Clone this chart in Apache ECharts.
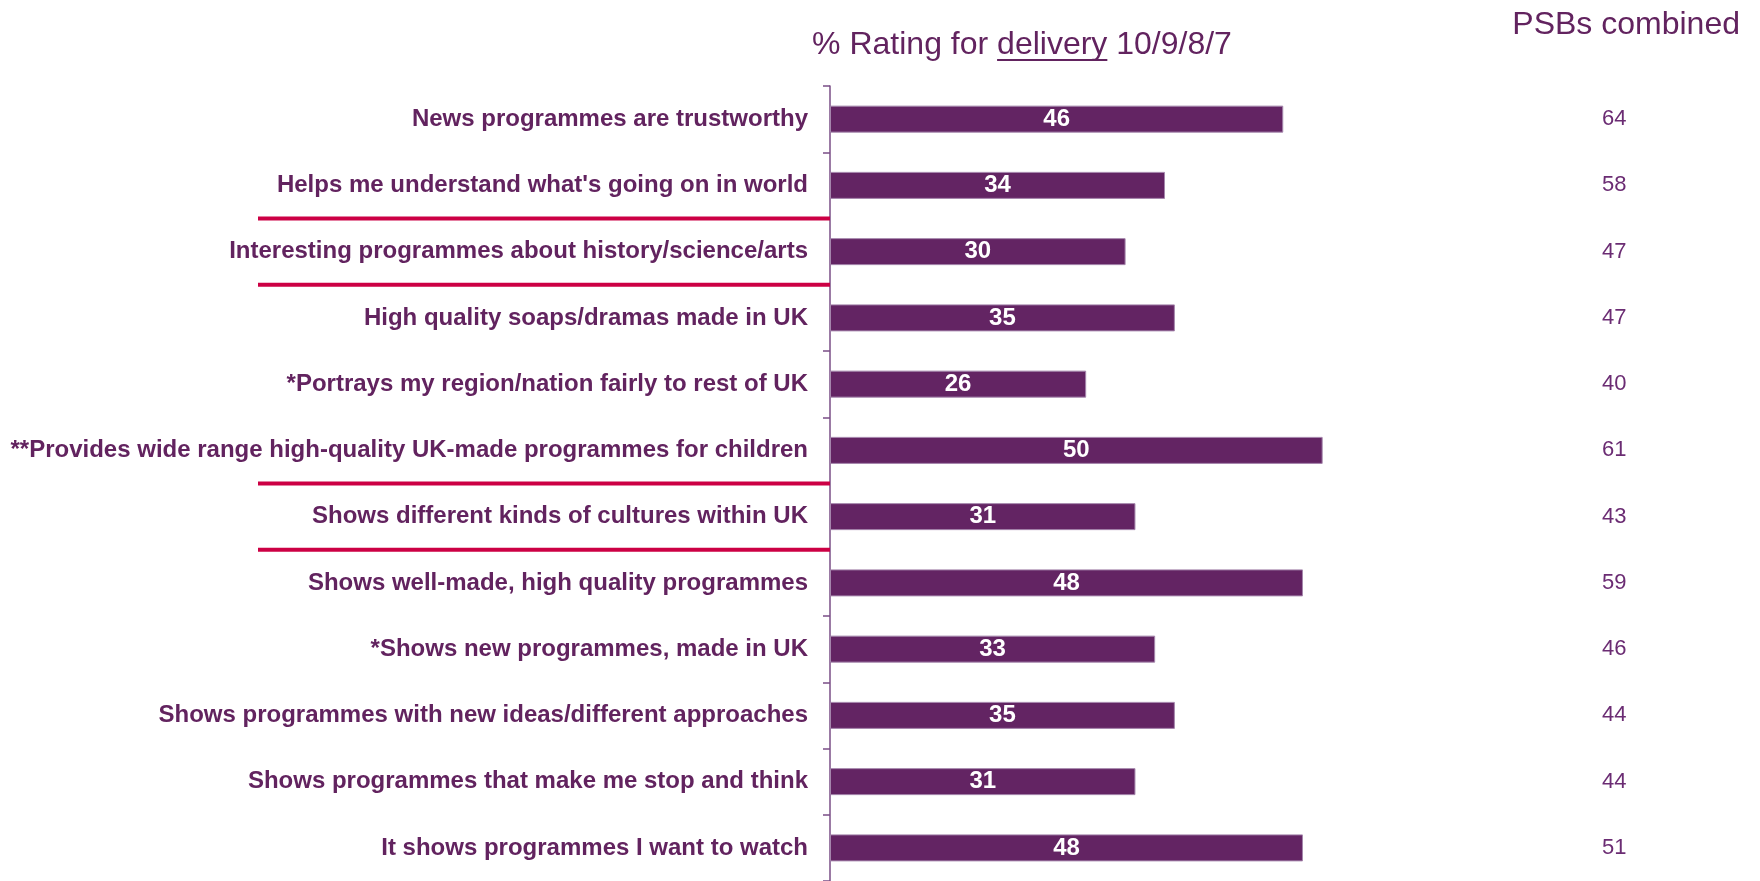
<!DOCTYPE html>
<html>
<head>
<meta charset="utf-8">
<script src="https://cdn.jsdelivr.net/npm/echarts@6/dist/echarts.min.js"></script>
<style>
  html, body { margin: 0; padding: 0; background: #ffffff; overflow: hidden; }
  #chart { width: 1760px; height: 881px; }
</style>
</head>
<body>
<div id="chart"></div>
<script>
// Statements rated, top to bottom
const categories = [
  'News programmes are trustworthy',
  "Helps me understand what's going on in world",
  'Interesting programmes about history/science/arts',
  'High quality soaps/dramas made in UK',
  '*Portrays my region/nation fairly to rest of UK',
  '**Provides wide range high-quality UK-made programmes for children',
  'Shows different kinds of cultures within UK',
  'Shows well-made, high quality programmes',
  '*Shows new programmes, made in UK',
  'Shows programmes with new ideas/different approaches',
  'Shows programmes that make me stop and think',
  'It shows programmes I want to watch'
];
// % rating for delivery 10/9/8/7
const deliveryValues = [46, 34, 30, 35, 26, 50, 31, 48, 33, 35, 31, 48];
// PSBs combined column
const psbCombined = [64, 58, 47, 47, 40, 61, 43, 59, 46, 44, 44, 51];
// Group dividers sit on the boundary above these category indices
const dividerBefore = [2, 3, 6, 7];

const titleText = ['% Rating for ', 'delivery', ' 10/9/8/7'];
const sideTitle = 'PSBs combined';

const PURPLE = '#62235F';
const FONT = '"Liberation Sans", Arial, sans-serif';

const chart = echarts.init(document.getElementById('chart'), null, { renderer: 'canvas' });

chart.setOption({
  backgroundColor: '#ffffff',
  animation: false,
  grid: { left: 830, right: 191, top: 86, height: 801, containLabel: false },
  xAxis: {
    type: 'value', min: 0, max: 75,
    show: false
  },
  yAxis: [
    {
      type: 'category', data: categories, inverse: true,
      axisLine: { show: true, lineStyle: { color: '#7A4E86', width: 1.5 } },
      axisTick: { show: true, length: 7, lineStyle: { color: '#7A4E86', width: 1.5 } },
      axisLabel: {
        margin: 22, color: PURPLE, fontFamily: FONT, fontWeight: 'bold', fontSize: 24
      }
    },
    {
      type: 'category', data: psbCombined, inverse: true, position: 'right',
      axisLine: { show: false }, axisTick: { show: false },
      axisLabel: { margin: 33, color: '#6B2C73', fontFamily: FONT, fontSize: 22 }
    }
  ],
  series: [{
    type: 'bar',
    yAxisIndex: 0,
    data: deliveryValues,
    barWidth: 27,
    itemStyle: { color: '#632463', borderColor: '#A586AC', borderWidth: 1 },
    label: {
      show: true, position: 'inside', color: '#ffffff',
      fontFamily: FONT, fontWeight: 'bold', fontSize: 24
    }
  }]
});

// Measure title pieces so the underline sits under "delivery"
const ctx = document.createElement('canvas').getContext('2d');
const titleFont = '32px ' + FONT;
ctx.font = titleFont;
const wPre = ctx.measureText(titleText[0]).width;
const wWord = ctx.measureText(titleText[1]).width;
const wAll = ctx.measureText(titleText.join('')).width;
const titleCx = 1022;
const titleLeft = titleCx - wAll / 2;

// Divider lines between statement groups, placed on category boundaries
const dividers = dividerBefore.map(function (idx) {
  const yA = chart.convertToPixel({ yAxisIndex: 0 }, categories[idx - 1]);
  const yB = chart.convertToPixel({ yAxisIndex: 0 }, categories[idx]);
  const y = (yA + yB) / 2;
  return {
    type: 'line',
    shape: { x1: 258, y1: y, x2: 830, y2: y },
    style: { stroke: '#CC0044', lineWidth: 4 },
    z: 10
  };
});

chart.setOption({
  graphic: [
    {
      type: 'text', left: titleLeft, top: 29,
      style: { text: titleText.join(''), font: titleFont, fill: PURPLE }
    },
    {
      type: 'line',
      shape: { x1: titleLeft + wPre, y1: 60, x2: titleLeft + wPre + wWord, y2: 60 },
      style: { stroke: PURPLE, lineWidth: 2 }
    },
    {
      type: 'text', right: 20, top: 9,
      style: { text: sideTitle, font: titleFont, fill: PURPLE }
    }
  ].concat(dividers)
});
</script>
</body>
</html>
